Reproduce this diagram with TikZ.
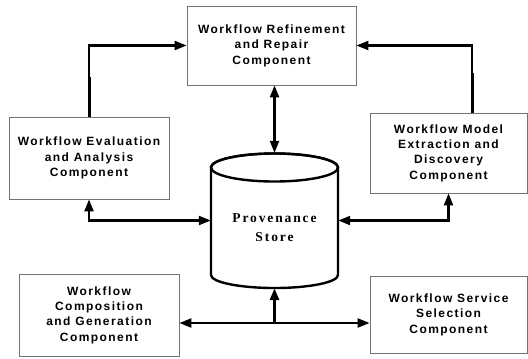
\documentclass[tikz,border=0pt]{standalone}
\usepackage{fontspec}
\setmainfont{Liberation Sans}
\newfontfamily\boxfont[LetterSpace=12]{Liberation Sans}
\newfontfamily\storefont[LetterSpace=14]{Liberation Serif}
\usetikzlibrary{arrows.meta}
\begin{document}
\begin{tikzpicture}[x=1bp,y=-1bp,
  comp/.style={draw=black!55, line width=0.8bp, rectangle, inner sep=0pt,
    align=center, font=\boxfont\bfseries\fontsize{12bp}{15.4bp}\selectfont},
  link/.style={line width=2.2bp, -{Triangle[length=12bp,width=9bp]}},
  dlink/.style={line width=2.2bp, {Triangle[length=12bp,width=9bp]}-{Triangle[length=12bp,width=9bp]}},
  stem/.style={line width=3bp}]
\useasboundingbox (0,0) rectangle (528,358);

% component boxes
\node[comp, minimum width=169bp, minimum height=79bp] (refine) at (271.5,45.5)
  {Workflow Refinement\\and Repair\\Component};
\node[comp, minimum width=160bp, minimum height=82bp] (eval) at (89,158)
  {Workflow Evaluation\\and Analysis\\Component};
\node[comp, minimum width=157bp, minimum height=80bp] (model) at (448.5,153)
  {Workflow Model\\Extraction and\\Discovery\\Component};
\node[comp, minimum width=160bp, minimum height=82bp] (compose) at (99,315)
  {Workflow\\Composition\\and Generation\\Component};
\node[comp, minimum width=157bp, minimum height=77bp] (service) at (448.5,314.5)
  {Workflow Service\\Selection\\Component};

% provenance store cylinder (body, then the top ellipse)
\node[minimum width=127bp, minimum height=135bp, inner sep=0pt] (store) at (274.5,220.5) {};
\draw[line width=2.4bp, fill=white]
  (211,167.5) -- (211,275)
  arc[start angle=180, end angle=0, x radius=63.5, y radius=13]
  -- (338,167.5)
  arc[start angle=360, end angle=180, x radius=63.5, y radius=14] -- cycle;
\draw[line width=2.4bp] (274.5,167.5) ellipse[x radius=63.5, y radius=14];
\node[align=center, font=\storefont\bfseries\fontsize{13.5bp}{19bp}\selectfont]
  (storelabel) at (274.5,227.5) {Provenance\\Store};

% connectors
\draw[link] (eval.north) |- (refine.west);
\draw[stem] (eval.north) -- ++(0,-40);
\draw[link] ([xshift=23.5bp]model.north) |- (refine.east);
\draw[stem] ([xshift=23.5bp]model.north) -- ++(0,-40);
\draw[dlink] (store.north |- refine.south) -- (store.north);
\draw[dlink] (eval.south) |- (store.west);
\draw[dlink] (model.south) |- (store.east);
\coordinate (hub) at (274.5,323);
\draw[link, line width=3bp] (hub) -- (store.south);
\draw[link] (hub) -- (hub -| compose.east);
\draw[link] (hub) -- (hub -| service.west);
\end{tikzpicture}
\end{document}
